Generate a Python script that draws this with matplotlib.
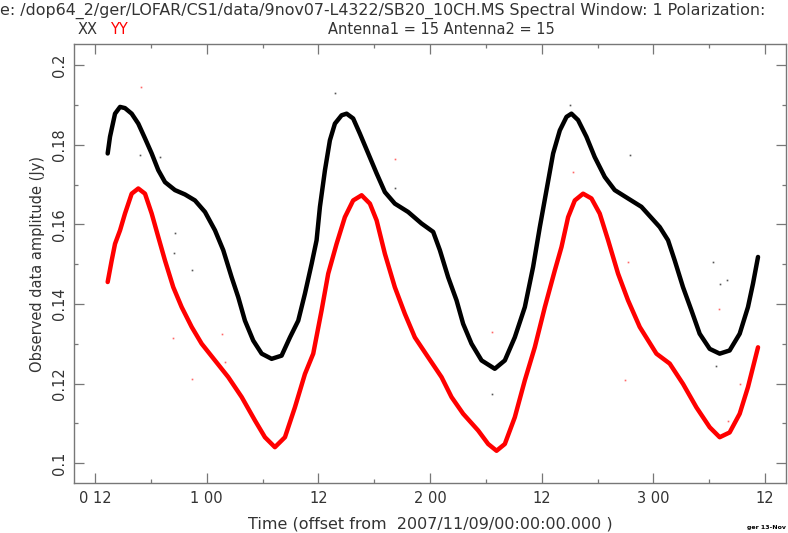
import matplotlib
matplotlib.use("Agg")
import matplotlib.pyplot as plt
from matplotlib.ticker import FixedLocator, MultipleLocator

# time in hours from 2007/11/09 00:00, amplitude in Jy
xx_time = [13.36, 13.61, 14.15, 14.69, 15.22, 15.94, 16.65, 17.37, 18.09, 18.80,
           19.52, 20.59, 21.67, 22.74, 23.82, 24.89, 25.78, 26.68, 27.39, 28.11,
           29.00, 29.91, 30.98, 32.05, 32.95, 33.84, 34.56, 35.28, 35.81, 36.17,
           36.71, 37.24, 37.78, 38.50, 39.04, 39.74, 40.46, 41.36, 42.26, 43.15,
           44.22, 45.65, 47.09, 48.34, 49.06, 49.95, 50.85, 51.56, 52.46, 53.54,
           54.96, 56.04, 57.11, 58.19, 59.08, 59.80, 60.52, 61.23, 61.95, 62.67,
           63.20, 63.91, 64.81, 65.70, 66.78, 67.85, 69.28, 70.72, 72.69, 73.58,
           74.30, 75.19, 76.09, 76.98, 78.06, 79.13, 80.20, 81.28, 82.17, 82.71,
           83.25]
xx_amp = [0.1778, 0.1820, 0.1878, 0.1895, 0.1892, 0.1878, 0.1853, 0.1816, 0.1778, 0.1736,
          0.1706, 0.1686, 0.1675, 0.1660, 0.1631, 0.1585, 0.1535, 0.1467, 0.1417, 0.1358,
          0.1308, 0.1275, 0.1262, 0.1270, 0.1316, 0.1358, 0.1426, 0.1501, 0.1560, 0.1644,
          0.1736, 0.1811, 0.1853, 0.1874, 0.1878, 0.1866, 0.1828, 0.1778, 0.1728, 0.1681,
          0.1652, 0.1631, 0.1602, 0.1581, 0.1535, 0.1467, 0.1409, 0.1350, 0.1300, 0.1258,
          0.1237, 0.1258, 0.1316, 0.1392, 0.1493, 0.1593, 0.1686, 0.1778, 0.1836, 0.1870,
          0.1878, 0.1862, 0.1820, 0.1769, 0.1719, 0.1686, 0.1665, 0.1644, 0.1593, 0.1560,
          0.1509, 0.1442, 0.1384, 0.1325, 0.1287, 0.1275, 0.1283, 0.1325, 0.1392, 0.1451,
          0.1518]

yy_time = [13.36, 13.79, 14.15, 14.69, 15.22, 15.94, 16.65, 17.37, 18.09, 18.80,
           19.52, 20.41, 21.31, 22.39, 23.46, 24.89, 26.32, 27.76, 29.19, 30.26,
           31.33, 32.41, 33.48, 34.56, 35.45, 36.35, 37.06, 37.96, 38.85, 39.74,
           40.65, 41.54, 42.26, 43.15, 44.22, 45.30, 46.37, 47.80, 49.24, 50.31,
           51.56, 53.17, 54.25, 55.15, 56.04, 57.11, 58.19, 59.26, 60.34, 61.41,
           62.13, 62.84, 63.56, 64.45, 65.35, 66.24, 67.14, 68.21, 69.28, 70.54,
           72.33, 73.76, 75.19, 76.63, 78.06, 79.13, 80.20, 81.28, 82.17, 82.71,
           83.25]
yy_amp = [0.1455, 0.1509, 0.1551, 0.1585, 0.1627, 0.1677, 0.1690, 0.1677, 0.1627, 0.1568,
          0.1509, 0.1442, 0.1392, 0.1342, 0.1300, 0.1258, 0.1216, 0.1166, 0.1107, 0.1065,
          0.1040, 0.1065, 0.1140, 0.1224, 0.1275, 0.1384, 0.1476, 0.1551, 0.1618, 0.1660,
          0.1673, 0.1652, 0.1610, 0.1526, 0.1442, 0.1375, 0.1316, 0.1266, 0.1216, 0.1166,
          0.1124, 0.1082, 0.1048, 0.1031, 0.1048, 0.1115, 0.1208, 0.1291, 0.1392, 0.1484,
          0.1543, 0.1618, 0.1660, 0.1677, 0.1665, 0.1627, 0.1560, 0.1476, 0.1409, 0.1342,
          0.1275, 0.1250, 0.1199, 0.1140, 0.1090, 0.1065, 0.1077, 0.1124, 0.1191, 0.1241,
          0.1291]

# stray samples away from the main bands
xx_out_time = [16.83, 18.98, 20.59, 20.49, 22.39, 37.78, 44.22, 54.61, 63.02, 69.46,
               78.41, 79.13, 79.92, 78.78]
xx_out_amp = [0.1774, 0.1769, 0.1577, 0.1528, 0.1484, 0.1929, 0.1690, 0.1174, 0.1899, 0.1774,
              0.1505, 0.1451, 0.1459, 0.1245]
yy_out_time = [16.91, 20.41, 22.39, 25.61, 25.96, 44.22, 54.61, 63.38, 69.28, 68.93,
               79.06, 81.28, 80.02]
yy_out_amp = [0.1944, 0.1314, 0.1212, 0.1325, 0.1254, 0.1765, 0.1329, 0.1732, 0.1505, 0.1209,
              0.1388, 0.1199, 0.1105]

xtick_pos = [12, 24, 36, 48, 60, 72, 84]
xtick_labels = ["0 12", "1 00", "12", "2 00", "12", "3 00", "12"]
ytick_pos = [0.1, 0.12, 0.14, 0.16, 0.18, 0.2]
ytick_labels = ["0.1", "0.12", "0.14", "0.16", "0.18", "0.2"]

txt = "#333333"
frame = "#777777"

fig = plt.figure(figsize=(7.88, 5.33), dpi=100)
ax = fig.add_axes([0.0939, 0.0938, 0.9036, 0.8236])

ax.plot(xx_time, xx_amp, color="black", lw=3.2, solid_capstyle="round", solid_joinstyle="round")
ax.plot(yy_time, yy_amp, color="red", lw=3.2, solid_capstyle="round", solid_joinstyle="round")
ax.plot(xx_out_time, xx_out_amp, "s", color="#555555", ms=1.2, mew=0)
ax.plot(yy_out_time, yy_out_amp, "s", color="#ff6666", ms=1.2, mew=0)

ax.set_xlim(9.74, 86.26)
ax.set_ylim(0.095, 0.2053)

ax.xaxis.set_major_locator(FixedLocator(xtick_pos))
ax.set_xticklabels(xtick_labels)
ax.xaxis.set_minor_locator(MultipleLocator(6))
ax.yaxis.set_major_locator(FixedLocator(ytick_pos))
ax.set_yticklabels(ytick_labels, rotation=90, va="center")
ax.yaxis.set_minor_locator(MultipleLocator(0.01))

ax.tick_params(which="both", direction="in", top=True, right=True,
               color=frame, labelcolor=txt, labelsize=10.5)
ax.tick_params(which="major", length=7, width=0.9)
ax.tick_params(which="minor", length=3, width=0.9)
ax.tick_params(axis="x", pad=6)
ax.tick_params(axis="y", pad=5)
for s in ax.spines.values():
    s.set_color(frame)
    s.set_linewidth(1.0)

ax.set_xlabel("Time (offset from  2007/11/09/00:00:00.000 )", color=txt, fontsize=11.5, labelpad=7)
ax.set_ylabel("Observed data amplitude (Jy)", color=txt, fontsize=10.5, labelpad=5)

fig.text(0.0, 0.979, "e: /dop64_2/ger/LOFAR/CS1/data/9nov07-L4322/SB20_10CH.MS Spectral Window: 1 Polarization:",
         color=txt, fontsize=11.4, ha="left", va="center")
fig.text(0.098, 0.944, "XX", color=txt, fontsize=10.5, ha="left", va="center")
fig.text(0.140, 0.944, "YY", color="red", fontsize=10.5, ha="left", va="center")
fig.text(0.56, 0.944, "Antenna1 = 15 Antenna2 = 15", color=txt, fontsize=10.5, ha="center", va="center")
fig.text(0.997, 0.006, "ger 13-Nov", color="black", fontsize=4.5, weight="bold", ha="right", va="bottom")

fig.savefig("out.png", dpi=100)
